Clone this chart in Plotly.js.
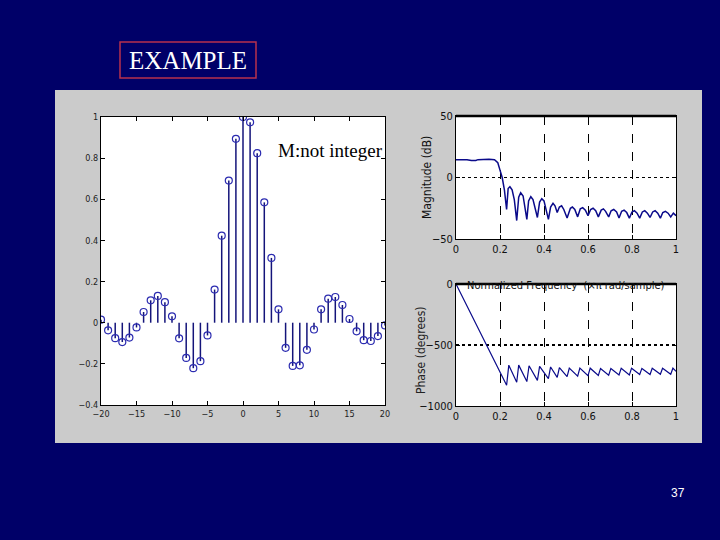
<!DOCTYPE html>
<html>
<head>
<meta charset="utf-8">
<script src="https://cdn.plot.ly/plotly-3.0.1.min.js"></script>
<style>html,body{margin:0;padding:0;background:#000068;}#chart{width:720px;height:540px;}</style>
</head>
<body>
<div id="chart"></div>
<script>
// ---- data: impulse response h[n] (stem plot) ----
const nIdx = [-20,-19,-18,-17,-16,-15,-14,-13,-12,-11,-10,-9,-8,-7,-6,-5,-4,-3,-2,-1,0,1,2,3,4,5,6,7,8,9,10,11,12,13,14,15,16,17,18,19,20];
const hVal = [0.015,-0.037,-0.075,-0.094,-0.072,-0.023,0.052,0.109,0.130,0.100,0.031,-0.076,-0.171,-0.221,-0.187,-0.062,0.161,0.423,0.691,0.894,1.0,0.974,0.824,0.585,0.315,0.065,-0.122,-0.210,-0.207,-0.132,-0.033,0.065,0.117,0.125,0.086,0.018,-0.042,-0.085,-0.089,-0.065,-0.013];

// ---- data: magnitude response (dB) ----
const magFreq = [0,0.05,0.07,0.09,0.10,0.12,0.15,0.175,0.19,0.20,0.21,0.22,0.23,0.237,0.245,0.255,0.265,0.276,0.285,0.294,0.305,0.322,0.33,0.34,0.35,0.37,0.38,0.39,0.40,0.42,0.43,0.441,0.45,0.46,0.47,0.48,0.49,0.505,0.52,0.529,0.54,0.553,0.565,0.576,0.588,0.60,0.612,0.623,0.635,0.647,0.66,0.67,0.68,0.694,0.705,0.717,0.73,0.741,0.753,0.764,0.776,0.788,0.80,0.811,0.823,0.835,0.847,0.858,0.87,0.882,0.894,0.905,0.917,0.929,0.94,0.952,0.964,0.976,0.988,1.0];
const magDb = [14.5,14.5,13.8,13.8,14.5,14.8,14.8,14.5,12,6,0,-10,-26,-9,-7.5,-10,-18,-35,-16,-12.4,-15,-34,-19,-15.6,-18,-32.5,-20,-17.2,-19,-34,-24,-21,-23,-28.5,-24,-23,-26,-33,-25,-24,-26,-32,-25.5,-24.5,-26.5,-31,-26,-25,-27,-32,-26.5,-25.5,-27.5,-32,-27,-26,-28,-33,-27.5,-26.5,-28.5,-33,-28,-27,-29,-33,-28,-27,-29,-32.5,-28,-27,-29,-33,-28.5,-27.5,-29,-32,-29,-31];

// ---- data: phase response (degrees) ----
const phFreq = [0,0.23,0.24,0.276,0.285,0.322,0.332,0.37,0.38,0.42,0.43,0.46,0.47,0.505,0.515,0.553,0.563,0.60,0.61,0.647,0.657,0.694,0.704,0.741,0.751,0.788,0.798,0.835,0.845,0.882,0.892,0.929,0.939,0.976,0.986,1.0];
const phDeg = [0,-830,-665,-805,-665,-800,-670,-790,-675,-775,-680,-765,-685,-760,-690,-755,-690,-752,-690,-750,-692,-748,-692,-745,-690,-745,-690,-742,-692,-742,-690,-740,-690,-740,-690,-715];

// ---- labels ----
const freqTicks = [0,0.2,0.4,0.6,0.8,1];
const freqTickText = ['0','0.2','0.4','0.6','0.8','1'];
const magTicks = [-50,0,50];
const phTicks = [-1000,-500,0];
const stemXTicks = [-20,-15,-10,-5,0,5,10,15,20];
const stemYTicks = [-0.4,-0.2,0,0.2,0.4,0.6,0.8,1];

// build stems from data
const stemX = [], stemY = [];
nIdx.forEach((n,i)=>{ stemX.push(n,n,null); stemY.push(0,hVal[i],null); });

const W=720,H=540;
const px = v=>v/W, py = v=>1-v/H;
const narrow = 'Liberation Sans Narrow, DejaVu Sans Condensed, Liberation Sans, sans-serif';

const traces = [
  {x:stemX,y:stemY,mode:'lines',line:{color:'#14147a',width:1.5},xaxis:'x',yaxis:'y',hoverinfo:'skip'},
  {x:nIdx,y:hVal,mode:'markers',marker:{symbol:'circle-open',size:7,color:'#2b2bb0',line:{width:1.2}},xaxis:'x',yaxis:'y'},
  {x:magFreq,y:magDb,mode:'lines',line:{color:'#0a0a8a',width:1.5},xaxis:'x2',yaxis:'y2'},
  {x:phFreq,y:phDeg,mode:'lines',line:{color:'#0a0a8a',width:1.2},xaxis:'x3',yaxis:'y3'}
];

const baseAxis = {showline:true,linecolor:'#000',linewidth:1,mirror:'allticks',ticks:'inside',ticklen:4,tickcolor:'#000',zeroline:false,showgrid:false,fixedrange:true};

const layout = {
  width:W,height:H,margin:{l:0,r:0,t:0,b:0},
  paper_bgcolor:'#000068',plot_bgcolor:'#ffffff',showlegend:false,
  xaxis:Object.assign({},baseAxis,{domain:[px(101),px(385)],range:[-20,20],tickvals:stemXTicks,tickfont:{family:narrow,size:9,color:'#222'},anchor:'y'}),
  yaxis:Object.assign({},baseAxis,{domain:[py(405),py(117)],range:[-0.4,1],tickvals:stemYTicks,tickfont:{family:narrow,size:9,color:'#222'},anchor:'x'}),
  xaxis2:Object.assign({},baseAxis,{domain:[px(456),px(676)],range:[0,1],tickvals:freqTicks,ticktext:freqTickText,tickfont:{family:narrow,size:11,color:'#111'},anchor:'y2',showgrid:true,gridcolor:'#000',gridwidth:1,griddash:'dash'}),
  yaxis2:Object.assign({},baseAxis,{domain:[py(239),py(116)],range:[-50,50],tickvals:magTicks,tickfont:{family:narrow,size:11,color:'#111'},anchor:'x2',showgrid:true,gridcolor:'#000',gridwidth:1.5,griddash:'dot'}),
  xaxis3:Object.assign({},baseAxis,{domain:[px(456),px(676)],range:[0,1],tickvals:freqTicks,ticktext:freqTickText,tickfont:{family:narrow,size:11,color:'#111'},anchor:'y3',showgrid:true,gridcolor:'#000',gridwidth:1,griddash:'dash'}),
  yaxis3:Object.assign({},baseAxis,{domain:[py(406),py(284)],range:[-1000,0],tickvals:phTicks,tickfont:{family:narrow,size:11,color:'#111'},anchor:'x3',showgrid:true,gridcolor:'#000',gridwidth:1.5,griddash:'dot'}),
  shapes:[
    {type:'rect',xref:'paper',yref:'paper',x0:px(55),x1:px(702),y0:py(443),y1:py(90),fillcolor:'#cbcbcb',line:{width:0},layer:'below'},
    {type:'rect',xref:'x domain',yref:'y domain',x0:0,x1:1,y0:0,y1:1,fillcolor:'#fff',line:{width:0},layer:'below'},
    {type:'rect',xref:'x2 domain',yref:'y2 domain',x0:0,x1:1,y0:0,y1:1,fillcolor:'#fff',line:{width:0},layer:'below'},
    {type:'rect',xref:'x3 domain',yref:'y3 domain',x0:0,x1:1,y0:0,y1:1,fillcolor:'#fff',line:{width:0},layer:'below'},
    {type:'line',xref:'x2 domain',yref:'y2 domain',x0:0,x1:1,y0:1,y1:1,line:{color:'#000',width:2.5}},
    {type:'line',xref:'x3 domain',yref:'y3 domain',x0:0,x1:1,y0:1,y1:1,line:{color:'#000',width:2.5}},
    {type:'rect',xref:'paper',yref:'paper',x0:px(120),x1:px(256),y0:py(78),y1:py(42),line:{color:'#b8304c',width:1.5},fillcolor:'rgba(0,0,0,0)'}
  ],
  annotations:[
    {xref:'paper',yref:'paper',x:px(188),y:py(61),xanchor:'center',yanchor:'middle',text:'EXAMPLE',showarrow:false,font:{family:'Liberation Serif, Times New Roman, serif',size:25,color:'#ffffff'}},
    {xref:'paper',yref:'paper',x:px(276),y:py(150),xanchor:'left',yanchor:'middle',text:'M:not integer',showarrow:false,font:{family:'Liberation Serif, Times New Roman, serif',size:19,color:'#000'}},
    {xref:'paper',yref:'paper',x:px(427),y:py(178),xanchor:'center',yanchor:'middle',text:'Magnitude (dB)',textangle:-90,showarrow:false,font:{family:narrow,size:12,color:'#111'}},
    {xref:'paper',yref:'paper',x:px(421),y:py(350),xanchor:'center',yanchor:'middle',text:'Phase (degrees)',textangle:-90,showarrow:false,font:{family:narrow,size:12,color:'#222'}},
    {xref:'paper',yref:'paper',x:px(566),y:py(285),xanchor:'center',yanchor:'middle',text:'Normalized Frequency  (\u00d7\u03c0 rad/sample)',showarrow:false,font:{family:narrow,size:11,color:'#111'}},
    {xref:'paper',yref:'paper',x:px(678),y:py(493),xanchor:'center',yanchor:'middle',text:'37',showarrow:false,font:{family:'Liberation Sans, Arial, sans-serif',size:12,color:'#ffffff'}}
  ]
};

Plotly.newPlot('chart',traces,layout,{staticPlot:true,displayModeBar:false});
</script>
</body>
</html>
